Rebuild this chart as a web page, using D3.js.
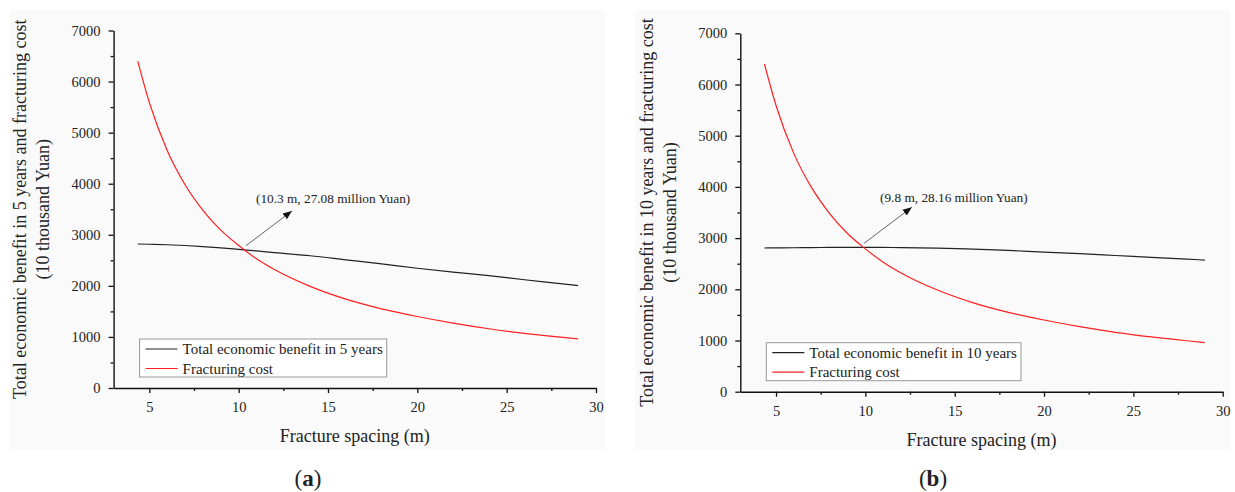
<!DOCTYPE html>
<html>
<head>
<meta charset="utf-8">
<script src="https://cdn.jsdelivr.net/npm/d3@7"></script>
<style>
  body { margin: 0; background: #fff; }
  svg { display: block; }
  text { font-family: "Liberation Serif", "Times New Roman", serif; fill: #222; }
</style>
</head>
<body>
<div id="chart"></div>
<script>
// values
var spacing = [4.35, 5, 6, 7, 8, 9, 10, 11, 12, 14, 16, 18, 20, 22, 24, 26, 28, 29];
var cost = [6400, 5590, 4650, 3980, 3480, 3090, 2790, 2530, 2320, 1990, 1740, 1550, 1400, 1270, 1160, 1070, 995, 960];
var benefit5 = [2820, 2815, 2805, 2790, 2770, 2745, 2715, 2685, 2650, 2590, 2510, 2430, 2345, 2270, 2200, 2120, 2045, 2005];
var benefit10 = [2807, 2808, 2812, 2815, 2817, 2818, 2818, 2817, 2815, 2805, 2785, 2760, 2725, 2695, 2660, 2625, 2590, 2570];

var xTicks = [5, 10, 15, 20, 25, 30];
var xMinor = [7.5, 12.5, 17.5, 22.5, 27.5];
var yTicks = [0, 1000, 2000, 3000, 4000, 5000, 6000, 7000];
var yMinor = [500, 1500, 2500, 3500, 4500, 5500, 6500];

var panelNames = ["(a)", "(b)"];
var benefitSeries = [benefit5, benefit10];
var legendNames = ["Total economic benefit in 5 years", "Total economic benefit in 10 years"];
var yTitles = ["Total economic benefit in 5 years and fracturing cost", "Total economic benefit in 10 years and fracturing cost"];
var annotX = [10.3, 9.8];
var annotY = [2708, 2816];
var annotText = ["(10.3 m, 27.08 million Yuan)", "(9.8 m, 28.16 million Yuan)"];

var svgWidth = 1235, svgHeight = 492;

var svg = d3.select("#chart").append("svg")
  .attr("width", svgWidth)
  .attr("height", svgHeight);

svg.append("defs").append("marker")
  .attr("id", "head")
  .attr("viewBox", "0 0 10 10")
  .attr("refX", 10).attr("refY", 5)
  .attr("markerWidth", 9).attr("markerHeight", 9)
  .attr("markerUnits", "userSpaceOnUse")
  .attr("orient", "auto")
  .append("path")
  .attr("d", "M0,1 L10,5 L0,9 Z")
  .attr("fill", "#111");

// plot frames of the two panels (pixel boxes)
var frames = [
  { left: 113.6, right: 596, top: 30.5, bottom: 388, bg: [10, 10, 595, 440], labX: 308, annT: [10.97, 3622], annH: [12.98, 3466] },
  { left: 740.3, right: 1222.7, top: 33.3, bottom: 391.7, bg: [635, 10, 595, 440], labX: 933, annT: [10.82, 3705], annH: [12.6, 3602] }
];

frames.forEach(function (f, i) {
  svg.append("rect")
    .attr("x", f.bg[0]).attr("y", f.bg[1])
    .attr("width", f.bg[2]).attr("height", f.bg[3])
    .attr("fill", "#fafafa");

  var x = d3.scaleLinear().domain([3, 30]).range([f.left, f.right]);
  var y = d3.scaleLinear().domain([0, 7000]).range([f.bottom, f.top]);

  var g = svg.append("g");

  // minor ticks
  g.append("g")
    .attr("transform", `translate(0, ${f.bottom})`)
    .call(d3.axisBottom(x).tickValues(xMinor).tickSize(3).tickFormat(""))
    .call(a => a.select(".domain").remove());
  g.append("g")
    .attr("transform", `translate(${f.left}, 0)`)
    .call(d3.axisLeft(y).tickValues(yMinor).tickSize(3).tickFormat(""))
    .call(a => a.select(".domain").remove());

  // major axes
  var xAxis = g.append("g")
    .attr("transform", `translate(0, ${f.bottom})`)
    .call(d3.axisBottom(x).tickValues(xTicks).tickFormat(d3.format("d")).tickSize(5).tickSizeOuter(0).tickPadding(9));
  var yAxis = g.append("g")
    .attr("transform", `translate(${f.left}, 0)`)
    .call(d3.axisLeft(y).tickValues(yTicks).tickFormat(d3.format("d")).tickSize(5).tickSizeOuter(0).tickPadding(8));

  [xAxis, yAxis].forEach(function (a) {
    a.attr("font-family", null);
    a.selectAll("path, line").attr("stroke", "#111").attr("stroke-width", 1.4);
    a.selectAll("text").attr("font-size", 14.5).attr("fill", "#222");
  });
  g.selectAll("line").attr("stroke", "#111").attr("stroke-width", 1.3);

  // curves
  var line = d3.line()
    .x((d, k) => x(spacing[k]))
    .y(d => y(d))
    .curve(d3.curveMonotoneX);

  g.append("path")
    .attr("d", line(benefitSeries[i]))
    .attr("fill", "none")
    .attr("stroke", "#222")
    .attr("stroke-width", 1.2);

  g.append("path")
    .attr("d", line(cost))
    .attr("fill", "none")
    .attr("stroke", "#ff2020")
    .attr("stroke-width", 1.2);

  // annotation
  g.append("line")
    .attr("x1", x(annotX[i]) + 2).attr("y1", y(annotY[i]) - 4)
    .attr("x2", x(f.annH[0])).attr("y2", y(f.annH[1]))
    .attr("stroke", "#555")
    .attr("stroke-width", 0.9)
    .attr("marker-end", "url(#head)");
  g.append("text")
    .attr("x", x(f.annT[0])).attr("y", y(f.annT[1]))
    .attr("font-size", 13.3)
    .text(annotText[i]);

  // legend
  var lx = f.left + 26, ly = f.bottom - 49;
  var leg = g.append("g").attr("transform", `translate(${lx}, ${ly})`);
  var box = leg.append("rect")
    .attr("width", 250).attr("height", 38)
    .attr("fill", "#fff")
    .attr("stroke", "#999")
    .attr("stroke-width", 1);
  var items = [[legendNames[i], "#222"], ["Fracturing cost", "#ff2020"]];
  var maxW = 0;
  items.forEach(function (it, k) {
    var yy = 10 + k * 19.5;
    leg.append("line")
      .attr("x1", 6).attr("x2", 38)
      .attr("y1", yy).attr("y2", yy)
      .attr("stroke", it[1]).attr("stroke-width", 1.2);
    var t = leg.append("text")
      .attr("x", 43).attr("y", yy).attr("dy", "0.35em")
      .attr("font-size", 15)
      .text(it[0]);
    maxW = Math.max(maxW, t.node().getComputedTextLength());
  });
  box.attr("width", 43 + maxW + 4);

  // axis titles
  var cy = (f.top + f.bottom) / 2;
  g.append("text")
    .attr("transform", `translate(${f.left - 94}, ${cy}) rotate(-90)`)
    .attr("text-anchor", "middle").attr("dy", "0.35em")
    .attr("font-size", 18)
    .text(yTitles[i]);
  g.append("text")
    .attr("transform", `translate(${f.left - 71}, ${cy}) rotate(-90)`)
    .attr("text-anchor", "middle").attr("dy", "0.35em")
    .attr("font-size", 18)
    .text("(10 thousand Yuan)");
  g.append("text")
    .attr("x", (f.left + f.right) / 2).attr("y", f.bottom + 54)
    .attr("text-anchor", "middle")
    .attr("font-size", 18)
    .text("Fracture spacing (m)");

  // panel label
  var lab = svg.append("text")
    .attr("x", f.labX).attr("y", 486)
    .attr("text-anchor", "middle")
    .attr("font-size", 23)
    .attr("fill", "#111");
  lab.append("tspan").text("(");
  lab.append("tspan").attr("font-weight", "bold").text(panelNames[i].slice(1, 2));
  lab.append("tspan").text(")");
});
</script>
</body>
</html>
